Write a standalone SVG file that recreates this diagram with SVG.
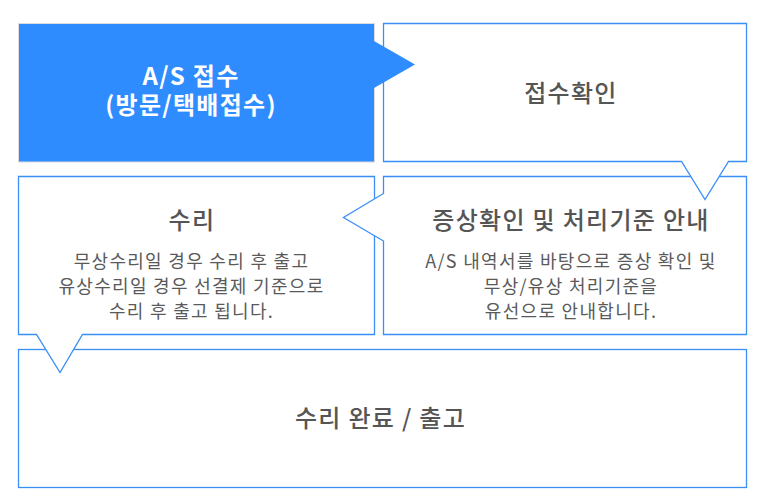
<svg xmlns="http://www.w3.org/2000/svg" width="767" height="504" viewBox="0 0 767 504">
<style>
.box{fill:#fff;stroke:#3a8ef6;stroke-width:1.3}
.t{font-family:"Noto Sans CJK KR","Noto Sans",sans-serif;text-anchor:middle;letter-spacing:1.3px}
.h{font-size:24px;font-weight:500;fill:#555}
.b{font-size:18px;fill:#5a5a5a}
.w{font-size:24px;font-weight:bold;fill:#fff}
</style>
<rect width="767" height="504" fill="#fff"/>
<g id="node-done">
<rect class="box" x="18.5" y="349.5" width="728" height="138"/>
<text class="t h" x="380.5" y="427">수리 완료 / 출고</text>
</g>
<g id="node-repair">
<path class="box" d="M18.5,176.5 H374.5 V334.5 H82.5 L60,372.5 L36.5,334.5 H18.5 Z"/>
<text class="t h" x="192" y="229">수리</text>
<text class="t b" x="191.5" y="267.5">무상수리일 경우 수리 후 출고</text>
<text class="t b" x="191.5" y="292.5">유상수리일 경우 선결제 기준으로</text>
<text class="t b" x="191.5" y="317.5">수리 후 출고 됩니다.</text>
</g>
<g id="node-guide">
<path class="box" d="M383.5,176.5 H746.5 V334.5 H383.5 V241 L343.5,217.5 L383.5,193.5 Z"/>
<text class="t h" x="571" y="229">증상확인 및 처리기준 안내</text>
<text class="t b" x="571" y="267.5">A/S 내역서를 바탕으로 증상 확인 및</text>
<text class="t b" x="571" y="292.5">무상/유상 처리기준을</text>
<text class="t b" x="571" y="317.5">유선으로 안내합니다.</text>
</g>
<g id="node-confirm">
<path class="box" d="M383.5,23.5 H746.5 V161.5 H728.5 L705,199.5 L681.5,161.5 H383.5 Z"/>
<text class="t h" x="571" y="101.5">접수확인</text>
</g>
<g id="node-receipt">
<rect x="18.5" y="23.5" width="356" height="138.5" fill="#2f8cff" stroke="#dcdcdc" stroke-width="1"/>
<polygon points="374,41 415,64.5 374,88" fill="#2f8cff"/>
<text class="t w" x="191" y="84.5">A/S 접수</text>
<text class="t w" x="191" y="114">(방문/택배접수)</text>
</g>
<g id="connectors"></g>
</svg>
